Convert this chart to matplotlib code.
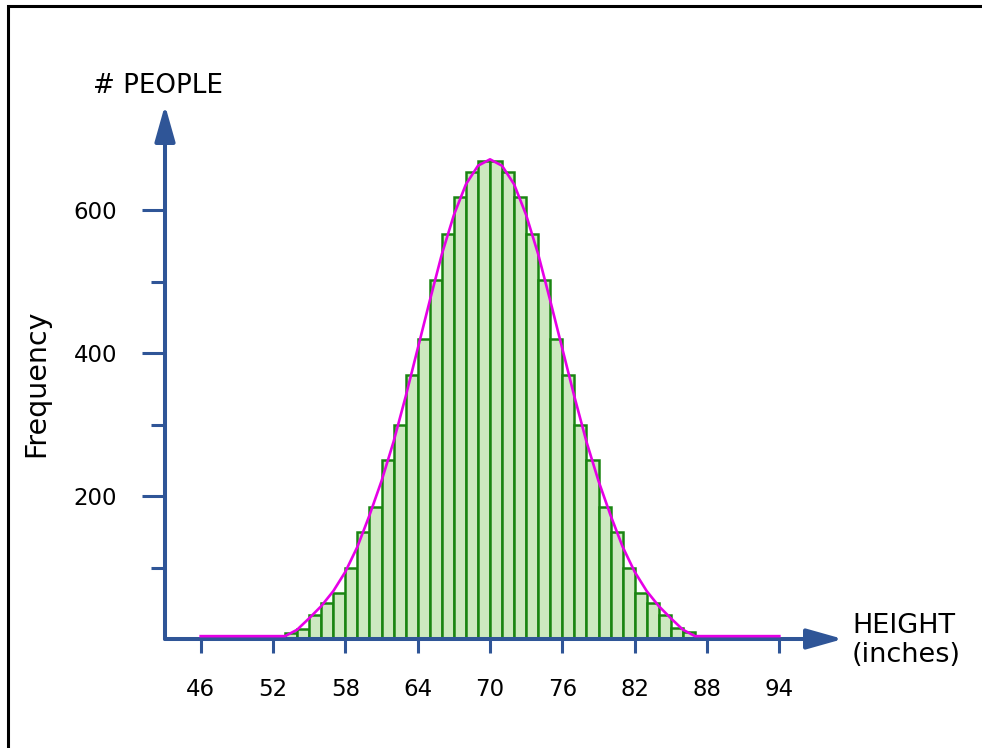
import matplotlib
matplotlib.use('Agg')
import matplotlib.pyplot as plt
from matplotlib.patches import Rectangle

# 数据：身高直方图（每 1 英寸一个区间，左边界）
bin_left = list(range(53, 87))
counts = [9, 14, 33, 50, 65, 100, 149, 184, 250, 300, 369, 419, 502, 567, 618, 653, 669,
          669, 653, 618, 567, 502, 419, 369, 300, 250, 184, 149, 100, 65, 50, 33, 15, 10]

# 拟合曲线
curve_x = list(range(46, 95))
curve_y = [4, 4, 4, 4, 4, 4, 4, 4, 13, 29, 46, 67, 94, 129, 173, 221, 276, 339, 406, 473,
           538, 593, 636, 662, 671, 662, 636, 593, 538, 473, 406, 339, 276, 221, 173, 129,
           94, 67, 46, 29, 13, 4, 4, 4, 4, 4, 4, 4, 4]

x_ticks = [46, 52, 58, 64, 70, 76, 82, 88, 94]
y_major = [200, 400, 600]
y_minor = [100, 300, 500]

W, H = 982, 748
AXIS_BLUE = '#2F5597'

fig = plt.figure(figsize=(W / 100, H / 100), dpi=100)
plt.rcParams['font.family'] = ['DejaVu Sans']

# 坐标区（按像素位置放置）
x0, x1 = 165, 843
y0, y1 = 639, 105
ax = fig.add_axes([x0 / W, (H - y0) / H, (x1 - x0) / W, (y0 - y1) / H])
ax.set_xlim(43.04, 99.28)
ax.set_ylim(0, 747)
for s in ax.spines.values():
    s.set_visible(False)

# 直方图
ax.bar(bin_left, counts, width=1, align='edge', color='#CDE9C0',
       edgecolor='#1A8512', linewidth=1.8, zorder=2)

# 曲线
ax.plot(curve_x, curve_y, color='#E600E6', linewidth=1.9, zorder=5,
        solid_joinstyle='round', clip_on=False)

# 坐标轴箭头
arrow = dict(arrowstyle='-|>,head_length=2.2,head_width=0.62', mutation_scale=10,
             color=AXIS_BLUE, lw=2.9, shrinkA=0, shrinkB=0)
ax.annotate('', xy=(99.28, 0), xytext=(43.04, 0), arrowprops=arrow,
            annotation_clip=False, zorder=4)
ax.annotate('', xy=(43.04, 747), xytext=(43.04, 0), arrowprops=arrow,
            annotation_clip=False, zorder=4)

# 刻度
ax.set_xticks(x_ticks)
ax.set_xticklabels([str(v) for v in x_ticks])
ax.set_yticks(y_major)
ax.set_yticklabels([str(v) for v in y_major])
ax.set_yticks(y_minor, minor=True)
ax.tick_params(axis='x', length=10, width=2.2, color=AXIS_BLUE, pad=18, labelsize=16.5)
ax.tick_params(axis='y', which='major', length=16.5, width=2.2, color=AXIS_BLUE,
               pad=18, labelsize=16.5)
ax.tick_params(axis='y', which='minor', length=10, width=2.2, color=AXIS_BLUE)

# 文字
fig.text(158 / W, 1 - 93 / H, '# PEOPLE', fontsize=18.8, ha='center', va='baseline')
fig.text(36 / W, 1 - 383 / H, 'Frequency', fontsize=20.5, rotation=90,
         ha='center', va='center')
fig.text(852 / W, 1 - 613 / H, 'HEIGHT\n(inches)', fontsize=19.5, ha='left', va='top',
         linespacing=1.15)

# 外框
fig.patches.append(Rectangle((8 / W, -0.1), 1.2, 1.1 - 5.7 / H, transform=fig.transFigure,
                             fill=False, edgecolor='black', linewidth=2.2))

plt.savefig('out.png', dpi=100)
